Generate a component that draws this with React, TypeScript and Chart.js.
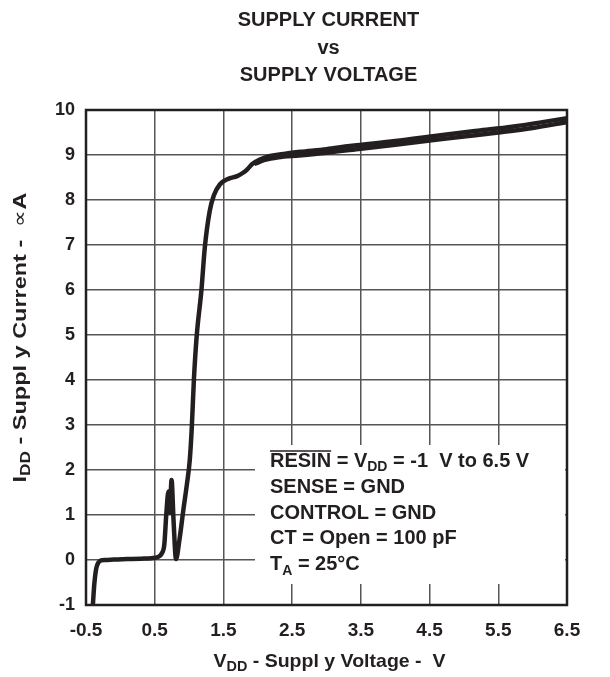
import { useEffect, useRef } from "react";
import { Chart, registerables } from "chart.js";

Chart.register(...registerables);

// ---- data ----
const supplyVoltageUp = [
  -0.4, -0.38, -0.35, -0.32, -0.28, -0.22, -0.1, 0.1, 0.3, 0.45, 0.55, 0.6, 0.64, 0.67, 0.7, 0.72,
  0.745, 0.775, 0.81, 0.86, 0.92, 0.97, 1.01, 1.04, 1.07, 1.11, 1.18, 1.23, 1.3, 1.36, 1.45, 1.57,
  1.7, 1.78, 1.84, 1.92, 2.03, 2.18, 2.4, 2.62, 3.0, 3.34, 4.0, 4.66, 5.2, 5.7, 6.1, 6.5,
];
const supplyCurrentUp = [
  -1.0, -0.55, -0.18, -0.06, -0.01, 0.0, 0.01, 0.02, 0.03, 0.04, 0.07, 0.14, 0.35, 1.05, 1.52, 1.05,
  1.78, 0.85, 0.02, 0.45, 1.15, 1.7, 2.22, 2.96, 4.0, 4.96, 6.0, 6.96, 7.75, 8.1, 8.35, 8.47,
  8.53, 8.6, 8.67, 8.8, 8.9, 8.98, 9.03, 9.07, 9.13, 9.2, 9.31, 9.44, 9.54, 9.63, 9.72, 9.82,
];
const supplyVoltageDown = [1.95, 2.1, 2.3, 2.6, 3.0, 3.5, 4.0, 4.5, 5.0, 5.5, 6.0, 6.5];
const supplyCurrentDown = [8.8, 8.89, 8.95, 8.99, 9.05, 9.14, 9.23, 9.32, 9.41, 9.5, 9.6, 9.73];

const xTickValues = [-0.5, 0.5, 1.5, 2.5, 3.5, 4.5, 5.5, 6.5];
const yTickValues = [-1, 0, 1, 2, 3, 4, 5, 6, 7, 8, 9, 10];

const titleLines = ["SUPPLY CURRENT", "vs", "SUPPLY VOLTAGE"];

type Seg = { text: string; sub?: boolean; thin?: boolean; over?: boolean };

const xAxisTitle: Seg[] = [
  { text: "V" },
  { text: "DD", sub: true },
  { text: " - Suppl y Voltage -  V" },
];
const yAxisTitle: Seg[] = [
  { text: "I" },
  { text: "DD", sub: true },
  { text: " - Suppl y Current -  " },
  { text: "\u221D", thin: true },
  { text: "A" },
];
const conditionLines: Seg[][] = [
  [{ text: "RESIN", over: true }, { text: " = V" }, { text: "DD", sub: true }, { text: " = -1  V to 6.5 V" }],
  [{ text: "SENSE = GND" }],
  [{ text: "CONTROL = GND" }],
  [{ text: "CT = Open = 100 pF" }],
  [{ text: "T" }, { text: "A", sub: true }, { text: " = 25\u00B0C" }],
];

const FAMILY = '"Liberation Sans", Arial, Helvetica, sans-serif';
const INK = "#231f20";

function drawRich(
  ctx: CanvasRenderingContext2D,
  segs: Seg[],
  x: number,
  y: number,
  size: number,
  align: "left" | "center",
  targetWidth?: number
) {
  const subSize = Math.round(size * 0.72);
  const fontOf = (s: Seg) =>
    `${s.thin ? "normal" : "bold"} ${s.sub ? subSize : size}px ${FAMILY}`;
  let total = 0;
  const widths: number[] = [];
  for (const s of segs) {
    ctx.font = fontOf(s);
    const w = ctx.measureText(s.text).width;
    widths.push(w);
    total += w;
  }
  const k = targetWidth ? targetWidth / total : 1;
  ctx.save();
  ctx.translate(x, y);
  ctx.scale(k, 1);
  let cx = align === "center" ? -total / 2 : 0;
  ctx.textAlign = "left";
  ctx.textBaseline = "alphabetic";
  segs.forEach((s, i) => {
    ctx.font = fontOf(s);
    ctx.fillText(s.text, cx, s.sub ? size * 0.22 : 0);
    if (s.over) {
      ctx.strokeStyle = INK;
      ctx.lineWidth = 1.5;
      ctx.beginPath();
      ctx.moveTo(cx, -size * 0.8);
      ctx.lineTo(cx + widths[i], -size * 0.8);
      ctx.stroke();
    }
    cx += widths[i];
  });
  ctx.restore();
}

const decorPlugin = {
  id: "decor",
  beforeDatasetsDraw(chart: any) {
    const { ctx, chartArea: ca } = chart;
    ctx.save();
    ctx.fillStyle = "#ffffff";
    ctx.fillRect(ca.left + 169, ca.top + 335, ca.right - 2 - (ca.left + 169), 139);
    ctx.restore();
  },
  afterDraw(chart: any) {
    const { ctx, chartArea: ca } = chart;
    ctx.save();
    // frame
    ctx.strokeStyle = INK;
    ctx.lineWidth = 2.5;
    ctx.strokeRect(ca.left, ca.top, ca.right - ca.left, ca.bottom - ca.top);

    ctx.fillStyle = INK;
    // title
    ctx.font = `bold 20px ${FAMILY}`;
    ctx.textAlign = "center";
    ctx.textBaseline = "alphabetic";
    const titleX = (ca.left + ca.right) / 2 + 2;
    titleLines.forEach((t, i) => ctx.fillText(t, titleX, 26 + i * 27.5));

    // x axis title
    drawRich(ctx, xAxisTitle, (ca.left + ca.right) / 2 + 3, ca.bottom + 62, 19, "center", 232);

    // y axis title
    ctx.save();
    ctx.translate(26, (ca.top + ca.bottom) / 2 - 20);
    ctx.rotate(-Math.PI / 2);
    drawRich(ctx, yAxisTitle, 0, 0, 19, "center", 290);
    ctx.restore();

    // conditions
    conditionLines.forEach((line, i) => {
      drawRich(ctx, line, ca.left + 184, ca.top + 357 + i * 25.8, 20, "left");
    });
    ctx.restore();
  },
};

export default function App() {
  const ref = useRef<HTMLCanvasElement | null>(null);
  useEffect(() => {
    if (!ref.current) return;
    const upPoints = supplyVoltageUp.map((v, i) => ({ x: v, y: supplyCurrentUp[i] }));
    const downPoints = supplyVoltageDown.map((v, i) => ({ x: v, y: supplyCurrentDown[i] }));
    const chart = new Chart(ref.current, {
      type: "line",
      data: {
        datasets: [
          {
            data: upPoints,
            borderColor: INK,
            borderWidth: 4.5,
            pointRadius: 0,
            cubicInterpolationMode: "monotone",
            fill: false,
          },
          {
            data: downPoints,
            borderColor: INK,
            borderWidth: 4.5,
            pointRadius: 0,
            cubicInterpolationMode: "monotone",
            fill: false,
          },
        ],
      },
      options: {
        responsive: false,
        animation: false,
        devicePixelRatio: 1,
        layout: { padding: { top: 110, right: 43, left: 0, bottom: 0 } },
        plugins: {
          legend: { display: false },
          title: { display: false },
          tooltip: { enabled: false },
        },
        scales: {
          x: {
            type: "linear",
            min: -0.5,
            max: 6.5,
            afterBuildTicks: (s: any) => {
              s.ticks = xTickValues.map((v) => ({ value: v }));
            },
            afterFit: (s: any) => {
              s.height = 72;
            },
            grid: { color: "#555555", lineWidth: 1.5, drawTicks: false },
            border: { display: false },
            ticks: {
              padding: 14,
              color: INK,
              font: { family: FAMILY, size: 19, weight: "bold" },
              callback: (v: any) => String(v),
            },
          },
          y: {
            type: "linear",
            min: -1,
            max: 10,
            afterBuildTicks: (s: any) => {
              s.ticks = yTickValues.map((v) => ({ value: v }));
            },
            afterFit: (s: any) => {
              s.width = 86;
            },
            grid: { color: "#555555", lineWidth: 1.5, drawTicks: false },
            border: { display: false },
            ticks: {
              padding: 11,
              color: INK,
              font: { family: FAMILY, size: 18, weight: "bold" },
              callback: (v: any) => String(v),
            },
          },
        },
      },
      plugins: [decorPlugin],
    });
    return () => chart.destroy();
  }, []);
  return (
    <div style={{ position: "fixed", left: 0, top: 0, width: 610, height: 677, background: "#fff" }}>
      <canvas ref={ref} width={610} height={677} style={{ width: 610, height: 677, display: "block" }} />
    </div>
  );
}
